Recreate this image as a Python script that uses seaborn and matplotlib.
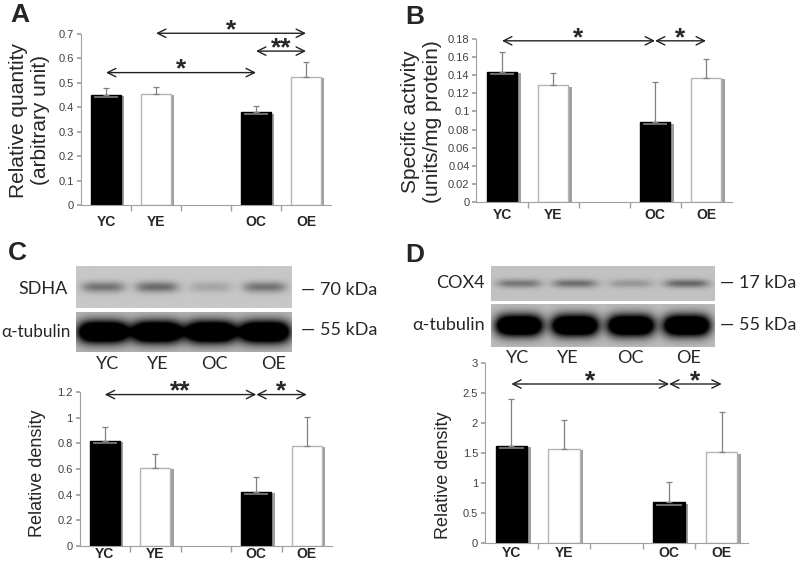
import numpy as np
import pandas as pd
import matplotlib
matplotlib.use("Agg")
import matplotlib.pyplot as plt
import matplotlib.patheffects as pe
import seaborn as sns

# groups and slot order (empty slot between young and old)
groups = ["YC", "YE", "OC", "OE"]
slots = ["YC", "YE", "", "OC", "OE"]
bar_colors = {"YC": "black", "YE": "white", "OC": "black", "OE": "white"}

# A: relative quantity
a_mean = [0.45, 0.455, 0.38, 0.525]
a_err = [0.03, 0.03, 0.025, 0.06]
# B: specific activity
b_mean = [0.144, 0.129, 0.088, 0.137]
b_err = [0.022, 0.013, 0.044, 0.021]
# C: SDHA relative density
c_mean = [0.82, 0.61, 0.42, 0.78]
c_err = [0.11, 0.11, 0.115, 0.225]
# D: COX4 relative density
d_mean = [1.62, 1.57, 0.68, 1.51]
d_err = [0.78, 0.48, 0.33, 0.67]

# significance arrows: (from, to, height, label)
a_sig = [("YC", "OC", 0.542, "*"), ("YE", "OE", 0.703, "*"), ("OC", "OE", 0.63, "**")]
b_sig = [("YC", "OC", 0.178, "*"), ("OC", "OE", 0.178, "*")]
c_sig = [("YC", "OC", 1.18, "**"), ("OC", "OE", 1.18, "*")]
d_sig = [("YC", "OC", 2.65, "*"), ("OC", "OE", 2.65, "*")]

# western blot band strength (0 = none, 1 = saturated)
sdha_band = [0.55, 0.6, 0.22, 0.55]
tub_c_band = [1.0, 1.0, 1.0, 1.0]
cox4_band = [0.5, 0.55, 0.28, 0.6]
tub_d_band = [1.0, 1.0, 1.0, 1.0]

W, H = 798, 562
sns.set_theme(style="white")
plt.rcParams["font.family"] = ["Liberation Sans", "DejaVu Sans"]
blot_font = ["Lato", "DejaVu Sans"]

fig = plt.figure(figsize=(W / 100, H / 100), dpi=100)
fig.patch.set_facecolor("white")


def rect_px(left, top, right, bottom):
    return [left / W, 1 - bottom / H, (right - left) / W, (bottom - top) / H]


def fig_xy(x, y):
    return x / W, 1 - y / H


def bar_panel(box, means, errs, ymax, step, sig, xpad):
    ax = fig.add_axes(rect_px(*box))
    df = pd.DataFrame({"group": groups, "value": means})
    sns.barplot(data=df, x="group", y="value", order=slots, hue="group",
                palette=bar_colors, width=0.6, errorbar=None, legend=False, ax=ax)
    shadow = [pe.SimplePatchShadow(offset=(2.5, -1), shadow_rgbFace="#777777", alpha=0.7),
              pe.Normal()]
    for patch in ax.patches:
        dark = patch.get_facecolor()[0] < 0.5
        patch.set_edgecolor("black" if dark else "#b5b5b5")
        patch.set_linewidth(1)
        patch.set_path_effects(shadow)
    pos = [slots.index(g) for g in groups]
    ax.errorbar(pos, means, yerr=[np.zeros(len(errs)), errs], fmt="none",
                ecolor="#808080", elinewidth=0.9, capsize=2, capthick=0.9, zorder=3)
    for p, m, g in zip(pos, means, groups):
        if bar_colors[g] == "black":
            ax.hlines(m - 0.013 * ymax, p - 0.24, p + 0.24, colors="#6e6e6e", lw=1.4, zorder=4)
    for g1, g2, h, lab in sig:
        x1, x2 = slots.index(g1), slots.index(g2)
        ax.annotate("", xy=(x2, h), xytext=(x1, h), annotation_clip=False,
                    arrowprops=dict(arrowstyle="<->,head_length=0.5,head_width=0.25",
                                    color="#222222", lw=1, shrinkA=0, shrinkB=0))
        ax.annotate(lab, xy=((x1 + x2) / 2, h), xytext=(0, -3), textcoords="offset points",
                    ha="center", va="baseline", fontsize=19, fontweight="bold",
                    annotation_clip=False)
    ax.set_xlim(-0.5, 4.5)
    ax.set_ylim(0, ymax)
    ax.set_yticks(np.arange(0, ymax + step / 2, step))
    ax.yaxis.set_major_formatter(lambda v, _: f"{v:g}")
    ax.set_xticks([0.5, 1.5, 2.5, 3.5], minor=True)
    ax.tick_params(axis="x", which="major", length=0, labelsize=10, pad=xpad)
    ax.tick_params(axis="x", which="minor", length=4, color="#a0a0a0", direction="out", bottom=True)
    ax.tick_params(axis="y", length=3, color="#a0a0a0", direction="out", left=True,
                   labelsize=8, labelcolor="#404040", pad=2)
    for lab in ax.get_xticklabels():
        lab.set_fontweight("bold")
    for s in ["top", "right"]:
        ax.spines[s].set_visible(False)
    for s in ["left", "bottom"]:
        ax.spines[s].set_color("#a0a0a0")
        ax.spines[s].set_linewidth(0.8)
    ax.set_xlabel("")
    ax.set_ylabel("")
    return ax


def blot(box, bands, bg, wx, wy, dark):
    ax = fig.add_axes(rect_px(*box))
    x = np.linspace(0, 4, 320)
    y = np.linspace(-1, 1, 60)
    X, Y = np.meshgrid(x, y)
    img = np.full(X.shape, bg)
    for i, s in enumerate(bands):
        prof = np.exp(-np.abs((X - i - 0.5) / wx) ** 4 - (Y / wy) ** 2)
        img = img - s * dark * prof
    ax.imshow(np.clip(img, 0, 1), cmap="gray", vmin=0, vmax=1, extent=(0, 4, -1, 1),
              aspect="auto", interpolation="bilinear")
    ax.axis("off")
    return ax


# bar charts
bar_panel((81, 34, 331, 205), a_mean, a_err, 0.7, 0.1, a_sig, 7)
bar_panel((476.5, 39, 731.5, 202), b_mean, b_err, 0.18, 0.02, b_sig, 4)
bar_panel((79.5, 392, 332, 546), c_mean, c_err, 1.2, 0.2, c_sig, 0.5)
bar_panel((485, 363, 748, 543), d_mean, d_err, 3, 0.5, d_sig, 2)

# y labels
fig.text(*fig_xy(30, 120), "Relative quantity\n(arbitrary unit)", rotation=90,
         ha="center", va="center", fontsize=15, multialignment="center")
fig.text(*fig_xy(422, 122), "Specific activity\n(units/mg protein)", rotation=90,
         ha="center", va="center", fontsize=15, multialignment="center")
fig.text(*fig_xy(37, 473), "Relative density", rotation=90,
         ha="center", va="center", fontsize=13)
fig.text(*fig_xy(443, 475), "Relative density", rotation=90,
         ha="center", va="center", fontsize=13)

# blots
blot((76, 266, 292, 308), sdha_band, 0.78, 0.4, 0.26, 0.6)
blot((76, 312, 292, 352), tub_c_band, 0.72, 0.47, 0.55, 1.4)
blot((491, 266, 715, 301), cox4_band, 0.76, 0.4, 0.24, 0.6)
blot((491, 304, 715, 347), tub_d_band, 0.74, 0.42, 0.5, 1.4)

# blot annotations
for (xr, y, name, fs) in [(68, 289, "SDHA", 13), (71, 332, "α-tubulin", 12.3),
                          (485, 283, "COX4", 13), (485, 325, "α-tubulin", 13)]:
    fig.text(*fig_xy(xr, y), name, ha="right", va="center", fontsize=fs, family=blot_font)
for (xd, y, kda) in [(301, 290, "70 kDa"), (301, 330, "55 kDa"),
                     (720, 283, "17 kDa"), (720, 325, "55 kDa")]:
    fig.text(*fig_xy(xd, y), "—", ha="left", va="center", fontsize=13, family=blot_font)
    fig.text(*fig_xy(xd + 19, y), kda, ha="left", va="center", fontsize=13, family=blot_font)
for xs, y in [([108, 158, 214, 274], 364), ([518, 568, 630, 689], 358)]:
    for xc, g in zip(xs, groups):
        fig.text(*fig_xy(xc, y), g, ha="center", va="center", fontsize=13, family=blot_font)

# panel letters
for x, y, letter in [(10, 3, "A"), (405, 5, "B"), (8, 241, "C"), (405, 243, "D")]:
    fig.text(*fig_xy(x, y), letter, ha="left", va="top", fontsize=19, fontweight="bold")

fig.savefig("out.png", dpi=100, facecolor="white")
